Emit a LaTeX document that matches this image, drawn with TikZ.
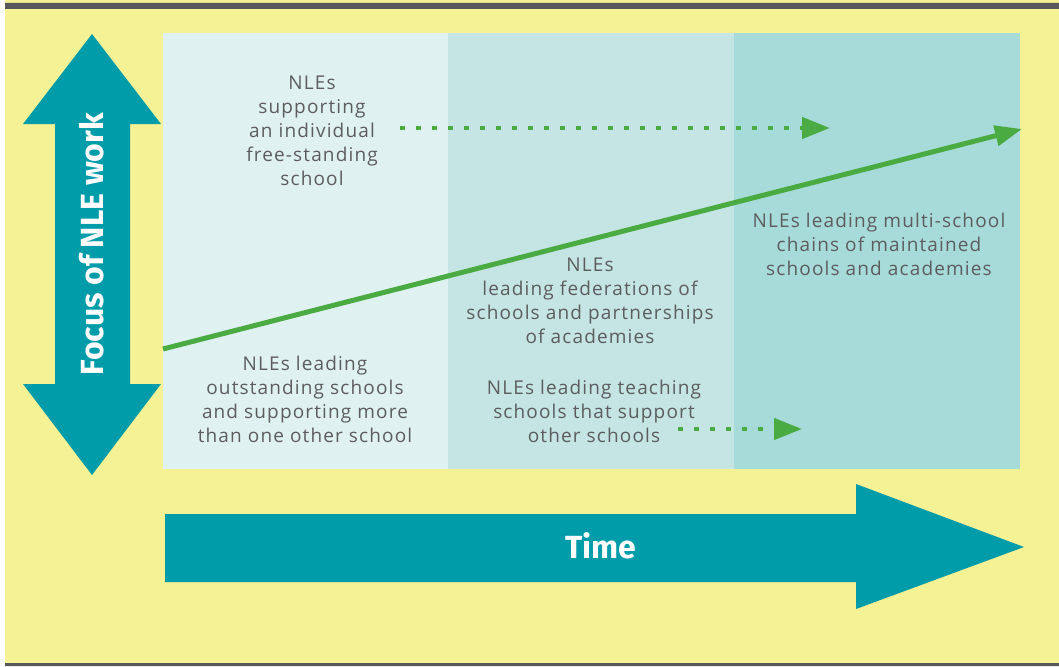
\documentclass[tikz,border=0pt]{standalone}
\usepackage{fontspec}
\setmainfont{Fira Sans}
\newfontfamily\stagefont[LetterSpace=6]{Open Sans}
\usetikzlibrary{arrows.meta}
\definecolor{nleyellow}{HTML}{F5F195}
\definecolor{nlebar}{HTML}{58585A}
\definecolor{nleteal}{HTML}{009CA9}
\definecolor{nlegreen}{HTML}{4BAB43}
\definecolor{nletext}{HTML}{5D5D5F}
\definecolor{phaseone}{HTML}{DFF1F1}
\definecolor{phasetwo}{HTML}{C4E5E3}
\definecolor{phasethree}{HTML}{A7DBD9}
\tikzset{
  stage text/.style={text=nletext,font=\stagefont\fontsize{19}{24}\selectfont,align=center,inner sep=0pt},
  axis text/.style={text=white,font=\fontsize{32}{34}\selectfont\bfseries,inner sep=0pt},
  drift/.style={nlegreen,line width=4.5pt,dash pattern=on 5pt off 11pt,-{Triangle[length=28pt,width=21pt]}},
  trend/.style={nlegreen,line width=5pt,-{Triangle[length=27pt,width=20pt]}}
}
\begin{document}
\begin{tikzpicture}[x=1pt,y=-1pt]
        \useasboundingbox (0,0) rectangle (1059,666);
        \fill[white] (0,0) rectangle (1059,666);
        \fill[nleyellow] (5,0) rectangle (1059,663);
        \fill[nlebar] (5,3) rectangle (1059,9) (5,663) rectangle (1059,666);
        \fill[phaseone] (163,33) rectangle (448,469);
        \fill[phasetwo] (448,33) rectangle (734,469);
        \fill[phasethree] (734,33) rectangle (1020,469);
        \fill[nleteal] (92,34)--(161,124)--(130,124)--(130,384)--(161,384)--(92,475)--(23,384)--(55,384)--(55,124)--(23,124)--cycle;
        \node[axis text,rotate=90] (focus) at (92,244) {Focus of NLE work};
        \fill[nleteal] (165,514)--(856,514)--(856,484)--(1024,547)--(856,609)--(856,582)--(165,582)--cycle;
        \node[axis text] (time) at (601,546) {Time};
        \node[stage text] (single) at (312,131) {NLEs\\supporting\\an individual\\free-standing\\school};
        \node[stage text] (outstanding) at (305,399) {NLEs leading\\outstanding schools\\and supporting more\\than one other school};
        \node[stage text] (federation) at (590,301) {NLEs\\leading federations of\\schools and partnerships\\of academies};
        \node[stage text] (teaching) at (594,411) {NLEs leading teaching\\schools that support\\other schools};
        \node[stage text] (chains) at (879,244) {NLEs leading multi-school\\chains of maintained\\schools and academies};
        \coordinate (singlefrom) at (400,128);
        \coordinate (singleto) at (830,128);
        \coordinate (teachfrom) at (678,429);
        \coordinate (teachto) at (802,429);
        \coordinate (trendfrom) at (163,349);
        \coordinate (trendto) at (1022,129);
        \draw[drift] (singlefrom)--(singleto);
        \draw[drift] (teachfrom)--(teachto);
        \draw[trend] (trendfrom)--(trendto);
      \end{tikzpicture}
\end{document}
